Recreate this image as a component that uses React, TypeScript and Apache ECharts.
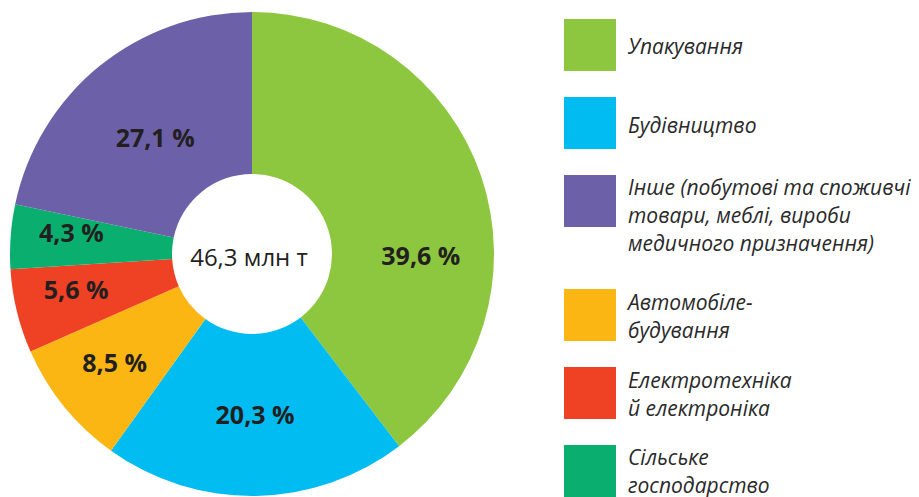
import React, { useEffect, useRef } from "react";
import * as echarts from "echarts";

// Slice shares (%). The printed label of the last slice reads "27,1 %", but the drawn
// slice corresponds to 21.7 % (the remainder to 100 %), which is what the picture shows.
const categories = [
  "Упакування",
  "Будівництво",
  "Автомобілебудування",
  "Електротехніка й електроніка",
  "Сільське господарство",
  "Інше (побутові та споживчі товари, меблі, вироби медичного призначення)",
];
const values = [39.6, 20.3, 8.5, 5.6, 4.3, 21.7];
const sliceLabels = ["39,6 %", "20,3 %", "8,5 %", "5,6 %", "4,3 %", "27,1 %"];
const colors = ["#8dc63f", "#00bcf1", "#fbb614", "#ef4123", "#0aaf6f", "#6c61a8"];
const totalLabel = "46,3 млн т";

// Legend (its order differs from the slice order)
const legendOrder = [0, 1, 5, 2, 3, 4];
const legendTexts = [
  "Упакування",
  "Будівництво",
  "Інше (побутові та споживчі\nтовари, меблі, вироби\nмедичного призначення)",
  "Автомобіле-\nбудування",
  "Електротехніка\nй електроніка",
  "Сільське\nгосподарство",
];

// layout / style only
const labelOffsets = [
  [13.5, 54],
  [0.5, -4],
  [-10, 5],
  [-16.5, -4],
  [-17, -10],
  [6.5, 10],
];
const legendTops = [19, 97, 175, 289, 367, 445];
const legendFirstLineMid = [46, 125, 187, 302, 380, 457];

export default function App() {
  const ref = useRef<HTMLDivElement>(null);
  useEffect(() => {
    document.body.style.margin = "0";
    if (!ref.current) return;
    const chart = echarts.init(ref.current, null, { renderer: "svg" });
    const textColor = "#231f20";
    const graphics: any[] = [];
    legendOrder.forEach((idx, i) => {
      graphics.push({
        type: "rect",
        shape: { x: 564, y: legendTops[i], width: 52, height: 52 },
        style: { fill: colors[idx] },
      });
      graphics.push({
        type: "text",
        x: 628,
        y: legendFirstLineMid[i] - 14,
        style: {
          text: legendTexts[i],
          fill: "#2a2a2a",
          font: 'italic 21px "Open Sans"',
          lineHeight: 28,
          verticalAlign: "top",
          align: "left",
        },
      });
    });
    graphics.push({
      type: "text",
      x: 249,
      y: 256,
      style: {
        text: totalLabel,
        fill: textColor,
        font: '24px "Open Sans"',
        align: "center",
        verticalAlign: "middle",
      },
    });
    chart.setOption({
      animation: false,
      graphic: graphics,
      series: [
        {
          type: "pie",
          center: [252, 254],
          radius: [80, 242],
          startAngle: 90,
          clockwise: true,
          avoidLabelOverlap: false,
          emphasis: { disabled: true },
          label: {
            show: true,
            position: "inside",
            color: textColor,
            fontFamily: "Open Sans",
            fontWeight: "bold",
            fontSize: 25,
          },
          labelLine: { show: false },
          data: values.map((v, i) => ({
            name: categories[i],
            value: v,
            itemStyle: { color: colors[i] },
            label: { formatter: sliceLabels[i], offset: labelOffsets[i] },
          })),
        },
      ],
    });
    return () => chart.dispose();
  }, []);
  return <div ref={ref} style={{ width: 919, height: 497 }} />;
}
